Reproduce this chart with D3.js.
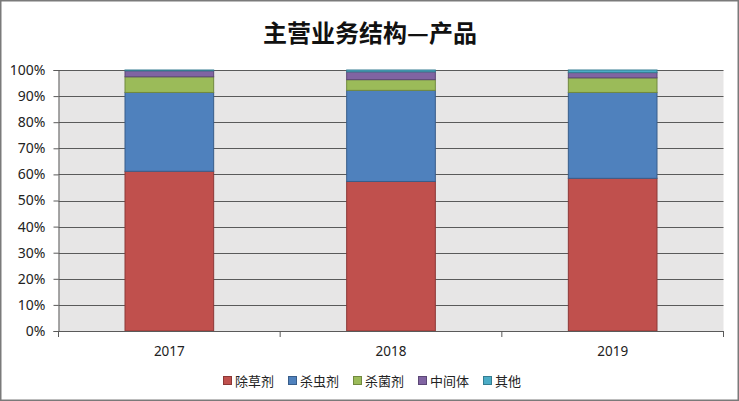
<!DOCTYPE html>
<html><head><meta charset="utf-8">
<script src="https://cdn.jsdelivr.net/npm/d3@7"></script>
<style>
body{margin:0;background:#fff;}
svg{display:block;font-family:"Noto Sans CJK SC","Noto Sans",sans-serif;}
</style></head><body>
<svg id="c" width="739" height="401"></svg>
<script>
const categories = ["2017","2018","2019"];
const seriesNames = ["除草剂","杀虫剂","杀菌剂","中间体","其他"];
const herbicide    = [61.2, 57.3, 58.5];
const insecticide  = [30.2, 34.9, 32.9];
const fungicide    = [6.0, 4.1, 5.6];
const intermediate = [2.3, 3.0, 2.0];
const others       = [0.3, 0.7, 1.0];
const yTicks = [0,10,20,30,40,50,60,70,80,90,100];

const fills = ["#c0504d","#4f81bd","#9bbb59","#8064a2","#4bacc6"];
const strokes = ["#8c3836","#385d8a","#71893f","#5c4776","#357d91"];

const seriesVals = [herbicide, insecticide, fungicide, intermediate, others];
const rows = categories.map((c,i)=>{
  const r = {cat:c};
  seriesNames.forEach((s,k)=>r[s]=seriesVals[k][i]);
  return r;
});
const stack = d3.stack().keys(seriesNames).offset(d3.stackOffsetExpand)(rows);

const svg = d3.select("#c");
svg.append("rect").attr("x",0.75).attr("y",0.75).attr("width",737.5).attr("height",399.5)
  .attr("fill","#fff").attr("stroke","#7a7a7a").attr("stroke-width",1.5);

const L=58.5, R=723.5, T=70, B=331;
const x = d3.scaleBand().domain(categories).range([L,R]).paddingInner(0.6).paddingOuter(0.3);
const xb = d3.scaleBand().domain(categories).range([L,R]);
const y = d3.scaleLinear().domain([0,1]).range([B,T]);

svg.append("rect").attr("x",L).attr("y",T).attr("width",R-L).attr("height",B-T).attr("fill","#e7e6e6");

svg.append("g").selectAll("line").data(yTicks.filter(t=>t>0)).join("line")
  .attr("x1",L).attr("x2",R)
  .attr("y1",d=>Math.round(y(d/100))+0.5).attr("y2",d=>Math.round(y(d/100))+0.5)
  .attr("stroke","#5a5a5a").attr("stroke-width",1);

const g = svg.append("g");
stack.forEach((s,k)=>{
  g.append("g").selectAll("rect").data(s).join("rect")
    .attr("x",d=>x(d.data.cat)).attr("width",x.bandwidth())
    .attr("y",d=>y(d[1])).attr("height",d=>y(d[0])-y(d[1]))
    .attr("fill",fills[k]).attr("stroke",strokes[k]).attr("stroke-width",1);
});

const yAxis = d3.axisLeft(y).tickValues(yTicks.map(t=>t/100)).tickFormat(d=>Math.round(d*100)+"%").tickSize(5).tickPadding(8);
const ya = svg.append("g").attr("transform",`translate(${L},0)`).call(yAxis);
ya.select(".domain").attr("stroke","#5a5a5a");
ya.selectAll(".tick line").attr("stroke","#5a5a5a");
ya.selectAll("text").attr("font-size",14).attr("fill","#222").attr("font-family","'Noto Sans','DejaVu Sans',sans-serif");

const xa = svg.append("g").attr("transform",`translate(0,${B})`);
xa.append("line").attr("x1",L).attr("x2",R).attr("y1",0.5).attr("y2",0.5).attr("stroke","#5a5a5a");
const bounds = [L, ...categories.map(c=>xb(c)+xb.bandwidth())];
xa.selectAll(".tk").data(bounds).join("line").attr("class","tk")
  .attr("x1",d=>d).attr("x2",d=>d).attr("y1",0).attr("y2",6).attr("stroke","#5a5a5a");
xa.selectAll("text").data(categories).join("text")
  .attr("x",d=>xb(d)+xb.bandwidth()/2).attr("y",25)
  .attr("text-anchor","middle").attr("font-size",13.5).attr("fill","#222")
  .attr("font-family","'Noto Sans','DejaVu Sans',sans-serif").text(d=>d);

svg.append("text").attr("x",370).attr("y",42).attr("text-anchor","middle")
  .attr("font-size",24).attr("font-weight","bold").attr("fill","#111").text("主营业务结构—产品");

const lg = svg.append("g");
seriesNames.forEach((s,k)=>{
  const lx = 223 + k*65;
  lg.append("rect").attr("x",lx+0.5).attr("y",376.5).attr("width",8).attr("height",8)
    .attr("fill",fills[k]).attr("stroke",strokes[k]);
  lg.append("text").attr("x",lx+12).attr("y",385.5).attr("font-size",13).attr("fill","#222").text(s);
});
</script>
</body></html>
